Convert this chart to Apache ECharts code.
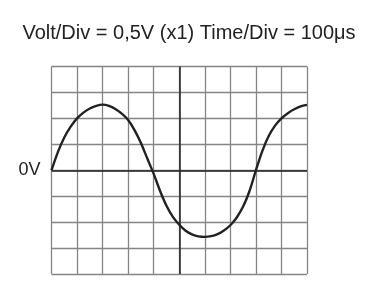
<!DOCTYPE html>
<html>
<head>
<meta charset="utf-8">
<script src="https://cdn.jsdelivr.net/npm/echarts@6/dist/echarts.min.js"></script>
<style>
html,body{margin:0;padding:0;background:#fff;}
#c{width:378px;height:291px;}
</style>
</head>
<body>
<div id="c"></div>
<script>
var titleText = 'Volt/Div = 0,5V (x1) Time/Div = 100\u03bcs';
var timeDiv = [0,0.25,0.5,0.75,1,1.25,1.5,1.75,2,2.25,2.5,2.75,3,3.25,3.5,3.75,4,4.25,4.5,4.75,5,5.25,5.5,5.75,6,6.25,6.5,6.75,7,7.25,7.5,7.75,8,8.25,8.5,8.75,9,9.25,9.5,9.75,10];
var voltDiv = [0,0.7,1.26,1.68,2.0,2.22,2.38,2.48,2.53,2.48,2.36,2.18,1.94,1.55,1.05,0.45,-0.14,-0.8,-1.37,-1.8,-2.1,-2.33,-2.47,-2.55,-2.57,-2.54,-2.46,-2.32,-2.12,-1.82,-1.4,-0.8,0,0.74,1.32,1.72,2.0,2.2,2.35,2.46,2.52];
var zeroLabel = '0V';

var chart = echarts.init(document.getElementById('c'), null, {renderer:'canvas'});
var pts = timeDiv.map(function(t,i){return [t, voltDiv[i]];});
chart.setOption({
  animation:false,
  title:{text:titleText,left:'center',top:18,textStyle:{fontFamily:'Liberation Sans, Arial',fontSize:20,fontWeight:'normal',color:'#222'}},
  grid:{left:51.5,right:71,top:66.5,bottom:17,show:false},
  xAxis:{type:'value',min:0,max:10,interval:1,
    axisLine:{show:false},axisTick:{show:false},axisLabel:{show:false},
    splitLine:{show:true,showMinLine:true,showMaxLine:true,lineStyle:{color:'#858585',width:1.3}}},
  yAxis:{type:'value',min:-4,max:4,interval:1,
    axisLine:{show:false},axisTick:{show:false},
    axisLabel:{show:true,margin:11,fontFamily:'Liberation Sans, Arial',fontSize:18,color:'#222',
      formatter:function(v){return v===0?zeroLabel:'';}},
    splitLine:{show:true,showMinLine:true,showMaxLine:true,lineStyle:{color:'#858585',width:1.3}}},
  series:[{
    type:'line',data:pts,smooth:0.3,symbol:'none',
    lineStyle:{color:'#222',width:2.4},
    z:5,
    markLine:{silent:true,symbol:'none',label:{show:false},
      lineStyle:{color:'#222',width:1.5,type:'solid'},
      data:[{yAxis:0},{xAxis:5}]}
  }]
});
</script>
</body>
</html>
